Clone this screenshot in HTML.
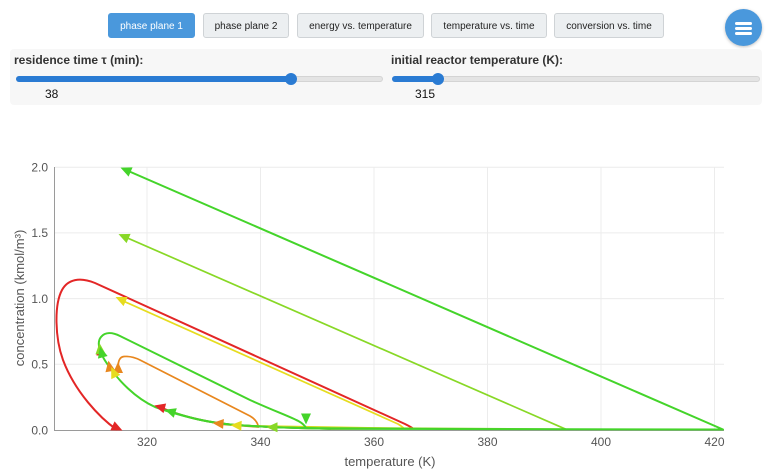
<!DOCTYPE html>
<html><head><meta charset="utf-8">
<style>
html,body{margin:0;padding:0;background:#fff;}
body{width:768px;height:476px;position:relative;overflow:hidden;font-family:"Liberation Sans",Arial,sans-serif;}
.btn{position:absolute;top:13px;height:25px;box-sizing:border-box;border:1px solid #cfd3d6;border-radius:3px;background:#eceff1;color:#222;font-size:10px;line-height:25px;text-align:center;}
.btn.act{background:#4a98dc;border-color:#4a98dc;color:#fff;}
.panel{position:absolute;left:10px;top:49px;width:752px;height:56px;background:#f7f7f7;border-radius:4px;}
.lbl{position:absolute;font-weight:bold;font-size:12px;color:#333;}
.val{position:absolute;font-size:12px;color:#111;}
.track{position:absolute;height:6px;border-radius:3px;background:#e4e4e4;border:1px solid #d4d4d4;box-sizing:border-box;}
.fill{position:absolute;height:6px;border-radius:3px;background:#2a7bd3;}
.thumb{position:absolute;width:12px;height:12px;border-radius:6px;background:#2a7bd3;}
.fab{position:absolute;left:725px;top:9px;width:37px;height:37px;border-radius:50%;background:#4a98dc;box-shadow:0 1px 3px rgba(0,0,0,0.25);}
.bar{position:absolute;left:10px;width:17px;height:3px;background:#fff;border-radius:1.5px;}
</style></head><body>
<div class="btn act" style="left:108px;width:87px;">phase plane 1</div>
<div class="btn" style="left:203px;width:86px;">phase plane 2</div>
<div class="btn" style="left:297px;width:127px;">energy vs. temperature</div>
<div class="btn" style="left:431px;width:116px;">temperature vs. time</div>
<div class="btn" style="left:554px;width:110px;">conversion vs. time</div>
<div class="fab"><div class="bar" style="top:13px"></div><div class="bar" style="top:18px"></div><div class="bar" style="top:23px"></div></div>

<div class="panel"></div>
<div class="lbl" style="left:14px;top:53px;">residence time τ (min):</div>
<div class="track" style="left:16px;top:76px;width:367px;"></div>
<div class="fill" style="left:16px;top:76px;width:275px;"></div>
<div class="thumb" style="left:285px;top:73px;"></div>
<div class="val" style="left:45px;top:87px;">38</div>

<div class="lbl" style="left:391px;top:53px;">initial reactor temperature (K):</div>
<div class="track" style="left:392px;top:76px;width:368px;"></div>
<div class="fill" style="left:392px;top:76px;width:46px;"></div>
<div class="thumb" style="left:432px;top:73px;"></div>
<div class="val" style="left:415px;top:87px;">315</div>

<svg width="768" height="476" style="position:absolute;left:0;top:0;" xmlns="http://www.w3.org/2000/svg">
<g stroke="#ececec" stroke-width="1">
<line x1="147" y1="167" x2="147" y2="430"/>
<line x1="260.5" y1="167" x2="260.5" y2="430"/>
<line x1="374" y1="167" x2="374" y2="430"/>
<line x1="487.5" y1="167" x2="487.5" y2="430"/>
<line x1="601" y1="167" x2="601" y2="430"/>
<line x1="714.5" y1="167" x2="714.5" y2="430"/>
<line x1="55" y1="167.2" x2="724" y2="167.2"/>
<line x1="55" y1="232.9" x2="724" y2="232.9"/>
<line x1="55" y1="298.6" x2="724" y2="298.6"/>
<line x1="55" y1="364.3" x2="724" y2="364.3"/>
</g>
<g stroke="#9a9a9a" stroke-width="1">
<line x1="54.5" y1="167" x2="54.5" y2="430.5"/>
<line x1="54" y1="430.5" x2="724" y2="430.5"/>
</g>
<g font-family="Liberation Sans, Arial, sans-serif" font-size="12" fill="#555">
<text x="48" y="171.5" text-anchor="end">2.0</text>
<text x="48" y="237" text-anchor="end">1.5</text>
<text x="48" y="303" text-anchor="end">1.0</text>
<text x="48" y="368.5" text-anchor="end">0.5</text>
<text x="48" y="434.5" text-anchor="end">0.0</text>
<text x="147" y="446" text-anchor="middle">320</text>
<text x="260.5" y="446" text-anchor="middle">340</text>
<text x="374" y="446" text-anchor="middle">360</text>
<text x="487.5" y="446" text-anchor="middle">380</text>
<text x="601" y="446" text-anchor="middle">400</text>
<text x="714.5" y="446" text-anchor="middle">420</text>
<text x="390" y="466" text-anchor="middle" font-size="13">temperature (K)</text>
<text transform="translate(24,298) rotate(-90)" text-anchor="middle" font-size="13">concentration (kmol/m³)</text>
</g>

<g fill="none" stroke-linejoin="round" stroke-linecap="round">
<path stroke="#e32626" stroke-width="2" d="M116.5,429.5 C100,418 75,392 63,360 C55,338 54,305 62,290 C68,279 80,277 95,283 L405,424 Q411,427 413,428.5 L330,428.8 C300,428.2 260,427 230,424.5 C200,421.5 175,414 160,407"/>
<path stroke="#e8871e" stroke-width="1.7" d="M118,369 C118,362 119,357 124,356.5 C130,356 135,357.5 140,360 L250,416 Q257,420 258.5,427 L218,424"/>
<path stroke="#e6dc1e" stroke-width="1.7" d="M121,300 L398,424 Q402,426.5 404,428.5 L236,425.5"/>
<path stroke="#88d826" stroke-width="1.7" d="M124,236.5 L566,429.3 L272,427.3"/>
<path stroke="#44d42a" stroke-width="2" d="M126,170 L723,429.5 L330,428.8 C300,428.2 260,427 230,424.5 C200,421.5 185,416 170.5,411.5"/>
<path stroke="#44d42a" stroke-width="2" d="M330,428.8 C300,428.2 260,427 230,424.5 C200,421.5 175,414 155,407 C135,398 118,380 108,365 C100,354 96,343 101,337 C105,332 112,332 120,336 L250,400 C290,418 302,420 306,428"/>
</g>

<g>
<polygon fill="#44d42a" points="6,0 -5,-5 -5,5" transform="translate(126,170) rotate(203.5)"/>
<polygon fill="#88d826" points="6,0 -5,-5 -5,5" transform="translate(124,236.5) rotate(203.7)"/>
<polygon fill="#e6dc1e" points="6,0 -5,-5 -5,5" transform="translate(121,299.5) rotate(204)"/>
<polygon fill="#e32626" points="6,0 -5,-5 -5,5" transform="translate(117,428) rotate(25)"/>
<polygon fill="#e8871e" points="6,0 -5,-5 -5,5" transform="translate(118,368) rotate(-90)"/>
<polygon fill="#e8871e" points="6,0 -5,-5 -5,5" transform="translate(109.5,366.5) rotate(-100)"/>
<polygon fill="#e6dc1e" points="6,0 -5,-5 -5,5" transform="translate(113.7,372.5) rotate(-115)"/>
<rect x="96.5" y="352.5" width="3" height="3" fill="#e32626"/>
<polygon fill="#88d826" points="6,0 -5,-5 -5,5" transform="translate(100,349) rotate(-95)"/>
<polygon fill="#44d42a" points="6,0 -5,-5 -5,5" transform="translate(101.5,352.5) rotate(-105)"/>
<polygon fill="#e32626" points="6,0 -5,-5 -5,5" transform="translate(160,407) rotate(195)"/>
<polygon fill="#44d42a" points="6,0 -5,-5 -5,5" transform="translate(170.5,411.5) rotate(198)"/>
<polygon fill="#e8871e" points="6,0 -5,-5 -5,5" transform="translate(218.5,423.5) rotate(185)"/>
<polygon fill="#e6dc1e" points="6,0 -5,-5 -5,5" transform="translate(236.5,425.5) rotate(183)"/>
<polygon fill="#88d826" points="6,0 -5,-5 -5,5" transform="translate(272.5,427.3) rotate(180)"/>
<polygon fill="#44d42a" points="6,0 -5,-5 -5,5" transform="translate(306,418.5) rotate(90)"/>
</g>
</svg>
</body></html>
